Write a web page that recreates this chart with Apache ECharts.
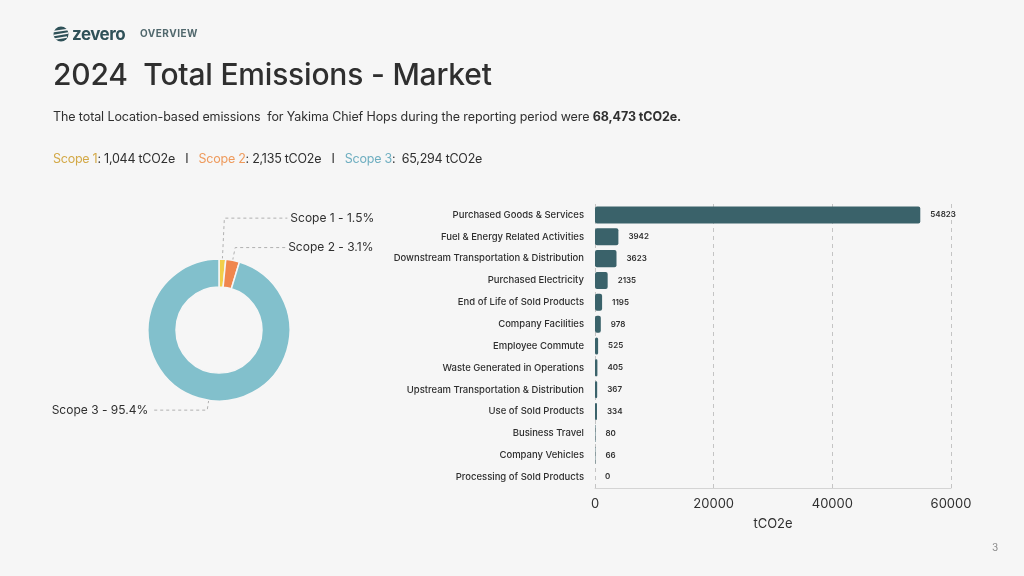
<!DOCTYPE html>
<html>
<head>
<meta charset="utf-8">
<script src="https://cdn.jsdelivr.net/npm/echarts@6/dist/echarts.min.js"></script>
<style>
  html, body { margin: 0; padding: 0; background: #f6f6f6; }
  body { width: 1024px; height: 576px; position: relative; overflow: hidden; font-family: Inter, 'Noto Sans', sans-serif; color: #2f2f2f; }
  #chart { position: absolute; left: 0; top: 0; width: 1024px; height: 576px; }
  .txt { position: absolute; white-space: nowrap; }
  .logo { left: 53px; top: 24px; font-size: 17px; font-weight: 700; color: #2f5158; letter-spacing: -0.5px; display: flex; align-items: center; }
  .logo svg { margin-right: 3px; }
  .section { left: 140px; top: 27px; font-size: 10px; font-weight: 700; color: #51686d; letter-spacing: 0.5px; }
  .title { left: 53px; top: 56px; font-size: 30px; font-weight: 500; color: #2f2f2f; letter-spacing: -0.2px; }
  .sub { left: 53px; top: 109px; font-size: 12.5px; color: #2f2f2f; letter-spacing: -0.1px; }
  .sub b { font-weight: 700; }
  .scopes { left: 53px; top: 151px; font-size: 12.5px; color: #2f2f2f; letter-spacing: -0.25px; }
  .s1 { color: #d3a947; }
  .s2 { color: #ee9a5c; }
  .s3 { color: #6eaec0; }
  .sep { margin: 0 7px; }
  .page { left: 992px; top: 541px; font-size: 10px; color: #888; }
</style>
</head>
<body>
<div id="chart"></div>
<div class="txt logo"><svg width="16" height="16" viewBox="0 0 16 16"><circle cx="8" cy="8" r="7.5" fill="#2f5158"/><path d="M1 5.5 L15 3.5 M0.8 9.5 L15.2 7 M2 13 L14 11" stroke="#f6f6f6" stroke-width="1.6"/></svg>zevero</div>
<div class="txt section">OVERVIEW</div>
<div class="txt title">2024&nbsp; Total Emissions - Market</div>
<div class="txt sub">The total Location-based emissions&nbsp; for Yakima Chief Hops during the reporting period were <b>68,473 tCO2e.</b></div>
<div class="txt scopes"><span class="s1">Scope 1</span>: 1,044 tCO2e <span class="sep">I</span> <span class="s2">Scope 2</span>: 2,135 tCO2e <span class="sep">I</span> <span class="s3">Scope 3</span>:&nbsp; 65,294 tCO2e</div>
<div class="txt page">3</div>
<script>
// scope split (pie)
const scopeNames = ['Scope 1', 'Scope 2', 'Scope 3']
const scopeValues = [1044, 2135, 65294]
const scopePct = ['1.5%', '3.1%', '95.4%']
const scopeColors = ['#f2cf4a', '#f0874e', '#82c0cc']

// scope 3 categories (bar), top to bottom
const categories = [
  'Purchased Goods & Services',
  'Fuel & Energy Related Activities',
  'Downstream Transportation & Distribution',
  'Purchased Electricity',
  'End of Life of Sold Products',
  'Company Facilities',
  'Employee Commute',
  'Waste Generated in Operations',
  'Upstream Transportation & Distribution',
  'Use of Sold Products',
  'Business Travel',
  'Company Vehicles',
  'Processing of Sold Products'
]
const emissions = [54823, 3942, 3623, 2135, 1195, 978, 525, 405, 367, 334, 80, 66, 0]
const xTicks = [0, 20000, 40000, 60000]

const lineLens = [[41, 63], [13, 50], [10, 56]]

const chart = echarts.init(document.getElementById('chart'))
const option = {
  backgroundColor: 'transparent',
  textStyle: { fontFamily: 'Inter, Noto Sans, sans-serif' },
  grid: { left: 595, right: 73, top: 204, bottom: 88, containLabel: false },
  xAxis: {
    type: 'value',
    min: xTicks[0],
    max: xTicks[xTicks.length - 1],
    interval: 20000,
    name: 'tCO2e',
    nameLocation: 'middle',
    nameGap: 30,
    nameTextStyle: { fontSize: 13, color: '#2f2f2f' },
    axisLine: { show: true, lineStyle: { color: '#d4d4d4' } },
    axisTick: { show: false },
    axisLabel: { fontSize: 13, color: '#2f2f2f', margin: 10, formatter: v => String(v) },
    splitLine: { show: true, lineStyle: { type: [4, 4], color: '#c4c4c4' } }
  },
  yAxis: {
    type: 'category',
    inverse: true,
    data: categories,
    axisLine: { show: false },
    axisTick: { show: false },
    axisLabel: { fontSize: 9.5, color: '#2f2f2f', fontWeight: 500, margin: 11 }
  },
  series: [
    {
      type: 'bar',
      data: emissions,
      barCategoryGap: '22%',
      itemStyle: { color: '#3a626a', borderRadius: 2 },
      label: { show: true, position: 'right', distance: 10, fontSize: 8, fontWeight: 600, color: '#2f2f2f' }
    },
    {
      type: 'pie',
      center: [219, 330],
      radius: [43, 71],
      startAngle: 90,
      clockwise: true,
      avoidLabelOverlap: false,
      itemStyle: { borderColor: '#f6f6f6', borderWidth: 1.5 },
      label: { fontSize: 12, color: '#2f2f2f', distanceToLabelLine: 3 },
      labelLine: { lineStyle: { type: [3, 3], color: '#b0b0b0', width: 1 } },
      data: scopeNames.map((n, i) => ({
        name: n,
        value: scopeValues[i],
        itemStyle: { color: scopeColors[i] },
        label: { formatter: n + ' - ' + scopePct[i] },
        labelLine: { length: lineLens[i][0], length2: lineLens[i][1] }
      }))
    }
  ]
}
chart.setOption(option)
</script>
</body>
</html>
